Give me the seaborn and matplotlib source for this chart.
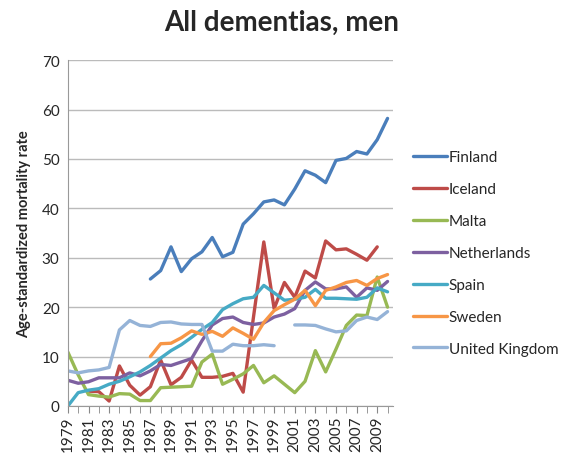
import numpy as np
import pandas as pd
import seaborn as sns
import matplotlib
matplotlib.use('Agg')
from matplotlib import pyplot as plt
from matplotlib.ticker import MultipleLocator

years = list(range(1979, 2011))
nan = np.nan

# values, 1979..2010 (nan = no data)
finland = [nan] * 8 + [25.7, 27.4, 32.2, 27.2, 29.8, 31.2, 34.1, 30.2, 31.1, 36.8, 38.9,
                       41.3, 41.7, 40.7, 43.9, 47.6, 46.7, 45.2, 49.7, 50.1, 51.5, 51.0, 53.9, 58.2]
iceland = [nan, nan, 3.0, 2.9, 1.0, 8.1, 4.2, 2.2, 3.9, 9.3, 4.3, 5.8, 9.3, 5.8, 5.8, 6.0,
           6.6, 2.8, 18.0, 33.2, 19.7, 25.0, 22.0, 27.3, 25.9, 33.4, 31.6, 31.8, 30.7, 29.5, 32.2, nan]
malta = [10.9, 6.3, 2.3, 2.0, 1.8, 2.5, 2.4, 1.1, 1.1, 3.7, 3.8, 3.9, 4.0, 8.9, 10.5, 4.4,
         5.4, 6.5, 8.2, 4.7, 6.1, 4.4, 2.7, 5.0, 11.2, 6.9, 11.5, 16.3, 18.4, 18.3, 26.1, 20.0]
netherlands = [5.2, 4.6, 4.9, 5.7, 5.7, 5.7, 6.7, 6.1, 7.1, 8.4, 8.2, 8.9, 9.6, 13.2, 16.4, 17.7,
               18.0, 16.9, 16.5, 16.8, 18.0, 18.6, 19.7, 23.4, 25.1, 23.7, 23.7, 24.1, 22.0, 23.9, 23.4, 25.2]
spain = [0.0, 2.7, 3.2, 3.5, 4.4, 5.0, 5.9, 6.9, 8.2, 9.7, 11.2, 12.4, 13.9, 15.5, 16.9, 19.5,
         20.7, 21.7, 22.0, 24.4, 22.9, 21.4, 21.6, 22.0, 23.6, 21.8, 21.8, 21.7, 21.6, 22.0, 23.9, 23.1]
sweden = [nan] * 8 + [10.0, 12.6, 12.7, 13.8, 15.2, 14.5, 15.1, 14.1, 15.8, 14.7, 13.5, 16.9,
                      19.3, 20.5, 21.6, 23.4, 20.3, 23.4, 24.1, 25.0, 25.4, 24.4, 25.8, 26.6]
uk = [7.1, 6.7, 7.1, 7.3, 7.8, 15.4, 17.3, 16.3, 16.1, 16.9, 17.0, 16.6, 16.5, 16.5, 11.1, 11.1,
      12.5, 12.2, 12.2, 12.4, 12.2, nan, 16.4, 16.4, 16.3, 15.6, 15.0, 15.2, 17.3, 18.0, 17.5, 19.1]

countries = ['Finland', 'Iceland', 'Malta', 'Netherlands', 'Spain', 'Sweden', 'United Kingdom']
series = [finland, iceland, malta, netherlands, spain, sweden, uk]
colors = ['#4A7EBB', '#BE4B48', '#98B954', '#7D60A0', '#46AAC5', '#F79646', '#95B3D7']

rows = []
for name, vals in zip(countries, series):
    seg = 0
    for yr, v in zip(years, vals):
        if np.isnan(v):
            seg += 1  # break the line where data is missing
            continue
        rows.append({'year': yr, 'rate': v, 'country': name, 'seg': f'{name}{seg}'})
df = pd.DataFrame(rows)

sns.set_style('white')
plt.rcParams['font.family'] = ['Lato', 'DejaVu Sans']

fig = plt.figure(figsize=(5.61, 4.56), dpi=100)
ax = fig.add_axes([0.121, 0.1075, 0.579, 0.7585])

sns.lineplot(data=df, x='year', y='rate', hue='country', units='seg', estimator=None,
             hue_order=countries, palette=colors, linewidth=2.4, ax=ax)

ax.set_xlim(1979, 2010.5)
ax.set_ylim(0, 70)
ax.yaxis.set_major_locator(MultipleLocator(10))
ax.set_xticks(years[::2])
ax.set_xticks(years, minor=True)
ax.tick_params(axis='x', which='both', direction='out', length=5, color='#888888', bottom=True,
               labelrotation=90, labelsize=11, pad=2)
ax.tick_params(axis='y', labelsize=11, length=0, pad=6)
ax.grid(axis='y', color='#BBBBBB', linewidth=1.0)
ax.set_axisbelow(True)
for s in ['top', 'right']:
    ax.spines[s].set_visible(False)
ax.spines['left'].set_color('#999999')
ax.spines['bottom'].set_color('#999999')

ax.set_xlabel('')
ax.set_ylabel('Age-standardized mortality rate', fontsize=10.5, fontweight='bold', labelpad=8)
fig.suptitle('All dementias, men', fontsize=20, fontweight='bold', x=0.502, y=0.978)

handles, labels = ax.get_legend_handles_labels()
for h in handles:
    h.set_linewidth(2.4)
ax.legend(handles, labels, loc='center left', bbox_to_anchor=(1.02, 0.442), frameon=False,
          fontsize=11, handlelength=2.2, handletextpad=0.15, labelspacing=1.17)

plt.savefig('out.png', dpi=100)
